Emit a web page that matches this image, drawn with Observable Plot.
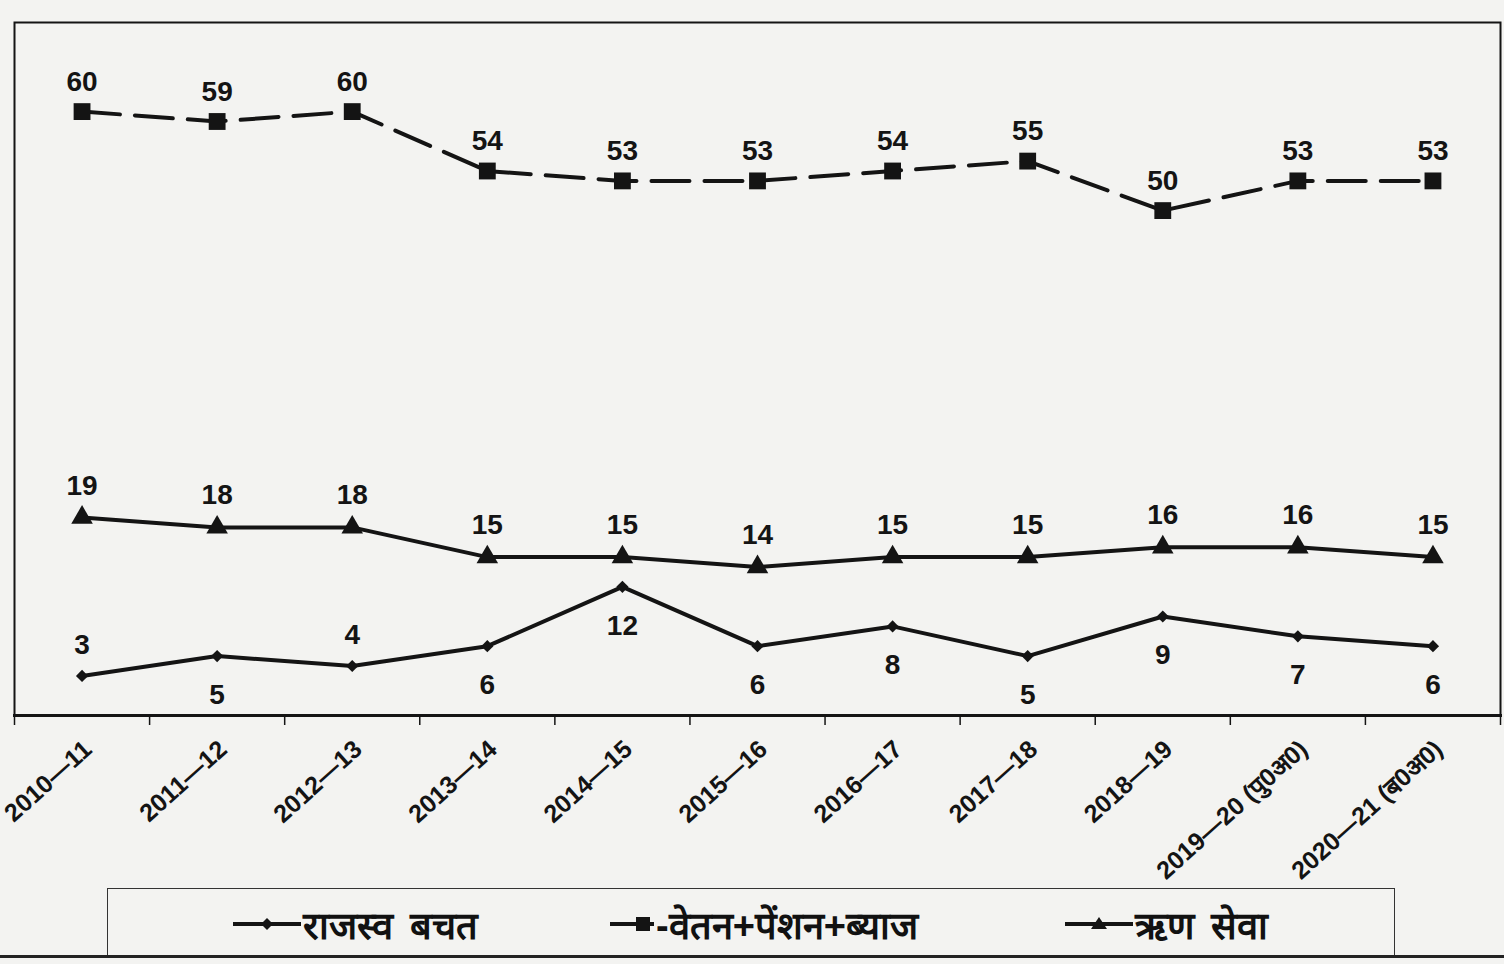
<!DOCTYPE html>
<html>
<head>
<meta charset="utf-8">
<script src="https://cdn.jsdelivr.net/npm/d3@7"></script>
<script src="https://cdn.jsdelivr.net/npm/@observablehq/plot@0.6"></script>
<style>
  body { margin: 0; background: #f3f3f1; width: 1504px; height: 964px; overflow: hidden; position: relative;
         font-family: "Liberation Sans", Arial, sans-serif; }
  #chart { position: absolute; left: 0; top: 0; }
  #legend { position: absolute; left: 107px; top: 888px; width: 1288px; height: 68px;
            border: 1.5px solid #333; box-sizing: border-box; }
  .item { position: absolute; top: 9px; display: flex; align-items: center; font-weight: bold;
          font-size: 38px; word-spacing: 6px; color: #111; white-space: nowrap; }
  .item svg { display: block; margin-right: 2px; }
  #rule { position: absolute; left: 0; top: 955px; width: 1504px; height: 3px; background: #222; }
</style>
</head>
<body>
<div id="chart"></div>
<div id="legend"></div>
<div id="rule"></div>
<script>
// ---- data ----
const years = ["2010—11", "2011—12", "2012—13", "2013—14", "2014—15", "2015—16",
               "2016—17", "2017—18", "2018—19", "2019—20 (पु0अ0)", "2020—21 (ब0अ0)"];
const revenueSavings        = [3, 5, 4, 6, 12, 6, 8, 5, 9, 7, 6];
const salaryPensionInterest = [60, 59, 60, 54, 53, 53, 54, 55, 50, 53, 53];
const debtService           = [19, 18, 18, 15, 15, 14, 15, 15, 16, 16, 15];
const seriesNames = ["राजस्व बचत", "-वेतन+पेंशन+ब्याज", "ऋण सेवा"];

// ---- build tables ----
const toRows = (vals, name) => vals.map((v, i) => ({i, year: years[i], value: v, series: name}));
const rev = toRows(revenueSavings, seriesNames[0]);
const sal = toRows(salaryPensionInterest, seriesNames[1]);
const debt = toRows(debtService, seriesNames[2]);
const boundaries = d3.range(-0.5, years.length, 1);
const revAbove = new Set([0, 2]);

const ink = "#141414";
const numFont = {fontSize: 28, fontWeight: "bold", fill: ink, fontFamily: "Liberation Sans, Arial, sans-serif"};

const chart = Plot.plot({
  width: 1504,
  height: 890,
  marginLeft: 14,
  marginRight: 4,
  marginTop: 22,
  marginBottom: 175,
  x: {domain: [-0.5, years.length - 0.5], label: null},
  y: {domain: [-1, 69], axis: null},
  style: {background: "transparent", fontFamily: "Liberation Sans, Arial, sans-serif", overflow: "visible"},
  marks: [
    Plot.frame({stroke: ink, strokeWidth: 2}),
    Plot.frame({anchor: "bottom", stroke: ink, strokeWidth: 3}),
    Plot.axisX(boundaries, {tickSize: 10, tickFormat: () => "", stroke: ink, strokeWidth: 1.5, label: null}),
    Plot.text(years, {x: (d, i) => i, frameAnchor: "bottom", text: d => d, rotate: -42, textAnchor: "end",
                      lineAnchor: "middle", dx: 6, dy: 30, fontSize: 25, fontWeight: "bold", fill: ink}),
    // salary + pension + interest
    Plot.line(sal, {x: "i", y: "value", stroke: ink, strokeWidth: 4, strokeDasharray: "38,15"}),
    Plot.dot(sal, {x: "i", y: "value", symbol: "square", r: 9.5, fill: ink, stroke: "none"}),
    Plot.text(sal, {x: "i", y: "value", text: "value", lineAnchor: "bottom", dy: -21, ...numFont}),
    // debt service
    Plot.line(debt, {x: "i", y: "value", stroke: ink, strokeWidth: 4}),
    Plot.dot(debt, {x: "i", y: "value", symbol: "triangle", r: 8, fill: ink, stroke: "none"}),
    Plot.text(debt, {x: "i", y: "value", text: "value", lineAnchor: "bottom", dy: -23, ...numFont}),
    // revenue savings
    Plot.line(rev, {x: "i", y: "value", stroke: ink, strokeWidth: 4}),
    Plot.dot(rev, {x: "i", y: "value", symbol: "diamond2", r: 5.5, fill: ink, stroke: "none"}),
    Plot.text(rev.filter(d => revAbove.has(d.i)), {x: "i", y: "value", text: "value", lineAnchor: "bottom", dy: -22, ...numFont}),
    Plot.text(rev.filter(d => !revAbove.has(d.i)), {x: "i", y: "value", text: "value", lineAnchor: "top", dy: 28, ...numFont})
  ]
});
document.getElementById("chart").appendChild(chart);

// ---- legend ----
const legendItems = [
  {name: seriesNames[0], left: 125, marker: "diamond"},
  {name: seriesNames[1], left: 502, marker: "square", dashed: true},
  {name: seriesNames[2], left: 957, marker: "triangle"}
];
const legend = document.getElementById("legend");
for (const it of legendItems) {
  const div = document.createElement("div");
  div.className = "item";
  div.style.left = it.left + "px";
  const w = it.dashed ? 44 : 68;
  let mk;
  if (it.marker === "diamond") mk = `<path d="M34,13 L40,19 L34,25 L28,19 Z" fill="${ink}"/>`;
  else if (it.marker === "square") mk = `<rect x="26" y="12" width="14" height="14" fill="${ink}"/>`;
  else mk = `<path d="M34,12 L42,24 L26,24 Z" fill="${ink}"/>`;
  div.innerHTML = `<svg width="${w}" height="38"><line x1="0" y1="19" x2="${w}" y2="19" stroke="${ink}" stroke-width="4"/>${mk}</svg><span>${it.name}</span>`;
  legend.appendChild(div);
}
</script>
</body>
</html>
